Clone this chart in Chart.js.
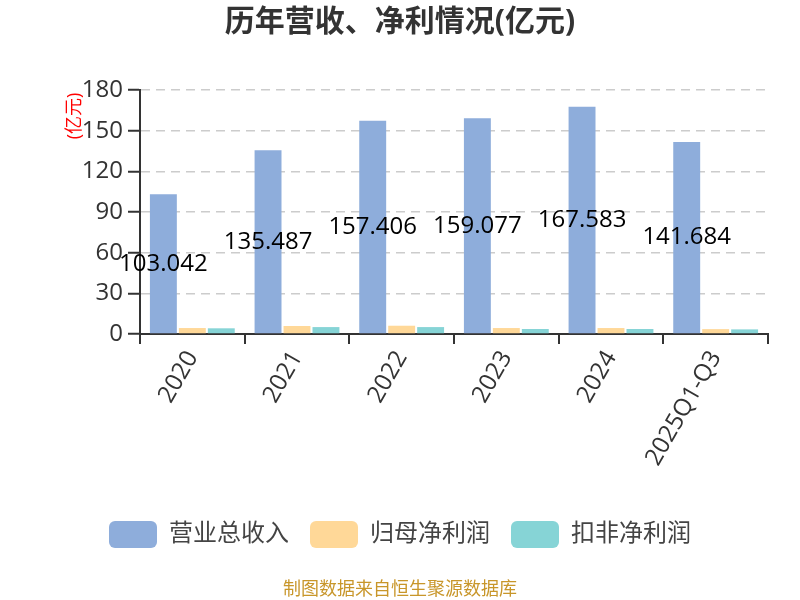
<!DOCTYPE html>
<html><head><meta charset="utf-8">
<script src="https://cdn.jsdelivr.net/npm/chart.js@4/dist/chart.umd.min.js"></script>
<style>html,body{margin:0;padding:0;background:#fff}#wrap{width:800px;height:600px}</style>
</head><body><div id="wrap"><canvas id="c" width="800" height="600"></canvas></div>
<script>
const categories = ['2020','2021','2022','2023','2024','2025Q1-Q3'];
const revenue = [103.042, 135.487, 157.406, 159.077, 167.583, 141.684];
const netProfit = [4.4, 5.9, 6.1, 4.4, 4.4, 3.6];
const deductedProfit = [4.2, 5.1, 5.1, 3.7, 3.7, 3.4];
const seriesNames = ['营业总收入','归母净利润','扣非净利润'];
const yTicks = [0,30,60,90,120,150,180];
const titleText = '历年营收、净利情况(亿元)';
const unitText = '(亿元)';
const footerText = '制图数据来自恒生聚源数据库';
const FONT = "'Open Sans','Noto Sans CJK SC',sans-serif";

const textPlugin = {
  id: 'texts',
  afterDraw(chart) {
    const ctx = chart.ctx;
    ctx.save();
    ctx.fillStyle = '#333';
    ctx.font = "bold 30px " + FONT;
    ctx.textAlign = 'center'; ctx.textBaseline = 'middle';
    ctx.fillText(titleText, 400, 22);
    ctx.fillStyle = '#c8962a';
    ctx.font = "18px " + FONT;
    ctx.fillText(footerText, 400, 590);
    ctx.translate(75, 116);
    ctx.rotate(-Math.PI/2);
    ctx.fillStyle = '#ff0000';
    ctx.font = "18px " + FONT;
    ctx.fillText(unitText, 0, 0);
    ctx.restore();
  },
  afterDatasetsDraw(chart) {
    const ctx = chart.ctx;
    const meta = chart.getDatasetMeta(0);
    ctx.save();
    ctx.fillStyle = '#000';
    ctx.font = "24px " + FONT;
    ctx.textAlign = 'center'; ctx.textBaseline = 'middle';
    meta.data.forEach((bar, i) => {
      ctx.fillText(revenue[i].toFixed(3), bar.x, (bar.y + bar.base) / 2);
    });
    ctx.restore();
  }
};

new Chart(document.getElementById('c'), {
  type: 'bar',
  data: {
    labels: categories,
    datasets: [
      {label: seriesNames[0], data: revenue, backgroundColor: '#8eaddb'},
      {label: seriesNames[1], data: netProfit, backgroundColor: '#ffd898'},
      {label: seriesNames[2], data: deductedProfit, backgroundColor: '#86d4d6'}
    ]
  },
  options: {
    responsive: false,
    animation: false,
    devicePixelRatio: 1,
    layout: {padding: {top: 90, right: 32, left: 32, bottom: 42}},
    datasets: {bar: {categoryPercentage: 0.83, barPercentage: 0.93}},
    plugins: {
      title: {display: false},
      tooltip: {enabled: false},
      legend: {
        position: 'bottom',
        labels: {
          boxWidth: 48, boxHeight: 27, padding: 21,
          useBorderRadius: true, borderRadius: 6,
          color: '#444', font: {size: 24, family: FONT}
        }
      }
    },
    scales: {
      x: {
        afterFit(s) { s.height = 166; },
        grid: {offset: true, drawOnChartArea: false, tickLength: 10, color: '#333', lineWidth: 2},
        border: {color: '#333', width: 2},
        ticks: {color: '#333', font: {size: 24, family: FONT}, maxRotation: 60, minRotation: 60, padding: 2}
      },
      y: {
        min: 0, max: 180,
        afterFit(s) { s.width = 108; },
        afterBuildTicks(s) { s.ticks = yTicks.map(v => ({value: v})); },
        grid: {color: '#cccccc', lineWidth: 1.5, tickLength: 12, tickColor: '#333', tickBorderDash: [], tickWidth: 2},
        border: {color: '#333', width: 2, dash: [9, 6]},
        ticks: {color: '#333', font: {size: 24, family: FONT}, padding: 5}
      }
    }
  },
  plugins: [textPlugin]
});
</script></body></html>
